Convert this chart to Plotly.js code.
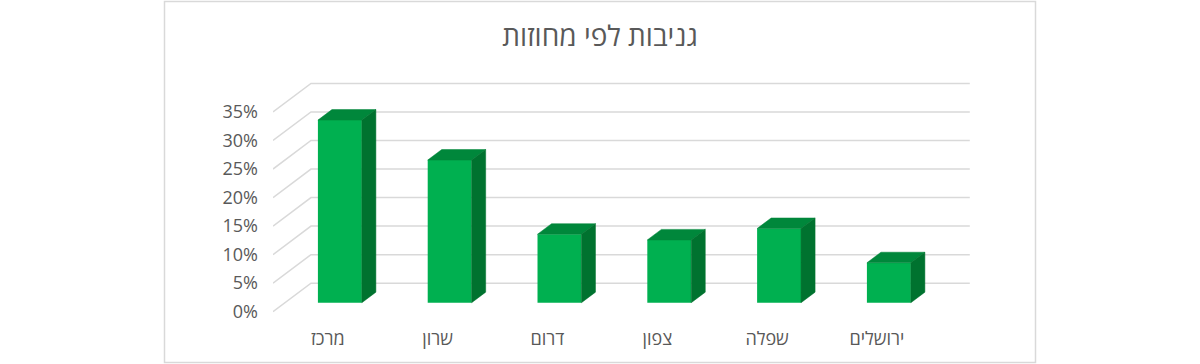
<!DOCTYPE html>
<html><head><meta charset="utf-8">
<script src="https://cdn.plot.ly/plotly-3.0.1.min.js"></script>
<style>html,body{margin:0;padding:0;background:#fff}</style>
</head><body><div id="chart" style="width:1200px;height:364px"></div>
<script>
// ---- data ----
const categories = ['מרכז', 'שרון', 'דרום', 'צפון', 'שפלה', 'ירושלים'];
const values = [32, 25, 12, 11, 13, 7];
const tickValues = [0, 5, 10, 15, 20, 25, 30, 35];
const tickLabels = ['0%', '5%', '10%', '15%', '20%', '25%', '30%', '35%'];
const titleText = 'גניבות לפי מחוזות';

// ---- style / geometry ----
const FONT = 'Open Sans, DejaVu Sans, sans-serif';
const TEXT = '#595959';
const GRID = '#d9d9d9';
const FRONT = '#00B050', TOP = '#00873B', SIDE = '#00722F';
const DX = 0.346, DY = 5;          // full depth offset (x units, value units)
const D0 = 0.315, D1 = 0.685;      // bar depth range (fraction of depth)
const HALF = 0.2;                  // half bar width (x units)
const W = 1200, H = 364, ML = 273, MR = 220, MT = 70, MB = 46;
const PXX = 109.8, PXY = 5.706;    // pixels per x unit / per value unit
const pw = W - ML - MR, ph = H - MT - MB;
const X0 = -0.5, X1 = categories.length - 0.5;
const xRange = [X0, X0 + pw / PXX];
const yBottom = -(318 - 311.7) / PXY;
const yRange = [yBottom, yBottom + ph / PXY];
const xIdx = categories.map((_, i) => i);

const shapes = [];
tickValues.forEach(v => {
  shapes.push({type: 'path', xref: 'x', yref: 'y', layer: 'below',
    path: `M${X0},${v} L${X0 + DX},${v + DY} L${X1 + DX},${v + DY}`,
    line: {color: GRID, width: 1.5}});
});
const pX = p => (p - ML) / pw;
const pY = p => (H - MB - p) / ph;
shapes.push({type: 'rect', xref: 'paper', yref: 'paper', layer: 'below',
  x0: pX(164.5), x1: pX(1035.5), y0: pY(362.5), y1: pY(1.5),
  line: {color: GRID, width: 1.5}});

// top and side faces
const topX = [], topY = [], sideX = [], sideY = [];
values.forEach((v, i) => {
  const fl = i - HALF + D0 * DX, fr = i + HALF + D0 * DX;
  const bl = i - HALF + D1 * DX, br = i + HALF + D1 * DX;
  const yf = v + D0 * DY, yb = v + D1 * DY;
  topX.push(fl, fr, br, bl, fl, null);
  topY.push(yf, yf, yb, yb, yf, null);
  sideX.push(fr, br, br, fr, fr, null);
  sideY.push(yf, yb, D1 * DY, D0 * DY, yf, null);
});

const traces = [
  {type: 'bar', x: xIdx.map(i => i + D0 * DX), y: values, base: D0 * DY,
   width: 2 * HALF, marker: {color: FRONT, line: {width: 0}}, hoverinfo: 'skip'},
  {type: 'scatter', mode: 'lines', x: topX, y: topY, fill: 'toself', fillcolor: TOP,
   line: {color: TOP, width: 0.5}, hoverinfo: 'skip'},
  {type: 'scatter', mode: 'lines', x: sideX, y: sideY, fill: 'toself', fillcolor: SIDE,
   line: {color: SIDE, width: 0.5}, hoverinfo: 'skip'}
];

const layout = {
  width: W, height: H,
  margin: {l: ML, r: MR, t: MT, b: MB, pad: 0},
  paper_bgcolor: '#ffffff', plot_bgcolor: 'rgba(0,0,0,0)',
  showlegend: false,
  title: {text: titleText, font: {family: FONT, size: 28, color: TEXT},
    x: 0.5, xref: 'container', xanchor: 'center',
    y: 1 - 36 / H, yref: 'container', yanchor: 'middle'},
  xaxis: {range: xRange, tickvals: xIdx, ticktext: categories, showgrid: false,
    zeroline: false, showline: false, ticks: '', ticklabelstandoff: 8,
    tickfont: {family: FONT, size: 18, color: TEXT}, fixedrange: true},
  yaxis: {range: yRange, tickvals: tickValues, ticktext: tickLabels, showgrid: false,
    zeroline: false, showline: false, ticks: '', ticklabelstandoff: 14,
    tickfont: {family: FONT, size: 18, color: TEXT}, fixedrange: true},
  shapes: shapes
};

Plotly.newPlot('chart', traces, layout, {staticPlot: true, displayModeBar: false});
</script>
</body></html>
